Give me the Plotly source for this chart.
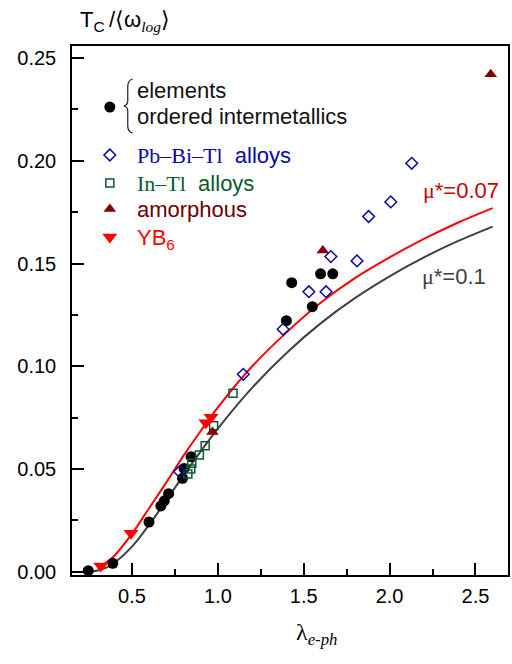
import plotly.graph_objects as go

# ---------------- data ----------------
elem_lam = [0.245, 0.388, 0.599, 0.668, 0.688, 0.713, 0.794, 0.803, 0.844,
            1.399, 1.430, 1.550, 1.598, 1.669]
elem_tc = [0.0005, 0.0041, 0.0242, 0.0320, 0.0345, 0.0380, 0.0455, 0.0503, 0.0560,
           0.1222, 0.1407, 0.1290, 0.1450, 0.1450]

pbbitl_lam = [0.777, 1.148, 1.380, 1.530, 1.630, 1.658, 1.810, 1.878, 2.007, 2.129]
pbbitl_tc = [0.0487, 0.0961, 0.1180, 0.1363, 0.1363, 0.1534, 0.1513, 0.1729, 0.1800, 0.1988]

intl_lam = [0.825, 0.842, 0.848, 0.892, 0.926, 0.975, 1.088]
intl_tc = [0.0476, 0.0500, 0.0528, 0.0568, 0.0613, 0.0711, 0.0869]

amor_lam = [0.968, 1.611, 2.589]
amor_tc = [0.0680, 0.1563, 0.2422]

yb6_lam = [0.318, 0.494, 0.930, 0.960]
yb6_tc = [0.0028, 0.0187, 0.0725, 0.0752]

mu007_lam = [0.30, 0.35, 0.40, 0.50, 0.60, 0.70, 0.80, 0.90, 1.00, 1.20, 1.40,
             1.60, 1.80, 2.00, 2.20, 2.40, 2.60]
mu007_tc = [0.0015, 0.0045, 0.0080, 0.0185, 0.0310, 0.0435, 0.0565, 0.0685, 0.0800,
            0.1000, 0.1165, 0.1310, 0.1430, 0.1530, 0.1620, 0.1700, 0.1770]

mu01_lam = [0.23, 0.30, 0.35, 0.40, 0.50, 0.60, 0.70, 0.80, 0.90, 1.00, 1.20, 1.40,
            1.60, 1.80, 2.00, 2.20, 2.40, 2.60]
mu01_tc = [0.0000, 0.0006, 0.0020, 0.0045, 0.0122, 0.0229, 0.0348, 0.0469, 0.0586,
           0.0697, 0.0896, 0.1065, 0.1210, 0.1333, 0.1438, 0.1530, 0.1610, 0.1680]

x_ticks = [0.5, 1.0, 1.5, 2.0, 2.5]
y_ticks = [0.00, 0.05, 0.10, 0.15, 0.20, 0.25]

# ---------------- layout geometry ----------------
W, H = 512, 664
L, R, T, B = 72, 510, 46, 575


def fx(x):
    return (x - L) / (R - L)


def fy(y):
    return (B - y) / (B - T)


SANS = "Liberation Sans, Arial, sans-serif"
SERIF = "Liberation Serif, Times New Roman, serif"

C_BLUE = "#0a0aa8"
C_GREEN = "#0b5a2e"
C_MAROON = "#800000"
C_RED = "#ff0000"
C_GREY = "#404040"

fig = go.Figure()

fig.add_trace(go.Scatter(x=mu01_lam, y=mu01_tc, mode="lines",
                         line=dict(color=C_GREY, width=2, shape="spline"), showlegend=False))
fig.add_trace(go.Scatter(x=mu007_lam, y=mu007_tc, mode="lines",
                         line=dict(color=C_RED, width=2, shape="spline"), showlegend=False))

fig.add_trace(go.Scatter(x=elem_lam, y=elem_tc, mode="markers",
                         marker=dict(symbol="circle", size=11, color="black"), showlegend=False))
fig.add_trace(go.Scatter(x=intl_lam, y=intl_tc, mode="markers",
                         marker=dict(symbol="square-open", size=8, color=C_GREEN,
                                     line=dict(width=1.5, color=C_GREEN)), showlegend=False))
fig.add_trace(go.Scatter(x=pbbitl_lam, y=pbbitl_tc, mode="markers",
                         marker=dict(symbol="diamond-open", size=9, color=C_BLUE,
                                     line=dict(width=1.5, color=C_BLUE)), showlegend=False))
fig.add_trace(go.Scatter(x=amor_lam, y=amor_tc, mode="markers",
                         marker=dict(symbol="triangle-up", size=11, color=C_MAROON), showlegend=False))
fig.add_trace(go.Scatter(x=yb6_lam, y=yb6_tc, mode="markers",
                         marker=dict(symbol="triangle-down", size=13, color=C_RED), showlegend=False))

# legend markers on an overlay axis in paper units
leg_x = fx(110)
leg_items = [
    (fy(107), dict(symbol="circle", size=11, color="black")),
    (fy(155), dict(symbol="diamond-open", size=9, color=C_BLUE, line=dict(width=1.5, color=C_BLUE))),
    (fy(183), dict(symbol="square-open", size=8, color=C_GREEN, line=dict(width=1.5, color=C_GREEN))),
    (fy(209), dict(symbol="triangle-up", size=11, color=C_MAROON)),
    (fy(237), dict(symbol="triangle-down", size=13, color=C_RED)),
]
for yy, mk in leg_items:
    fig.add_trace(go.Scatter(x=[leg_x], y=[yy], mode="markers", marker=mk,
                             xaxis="x2", yaxis="y2", showlegend=False, hoverinfo="skip"))

ann = []


def txt(x, y, s, size, color, xanchor="left", family=SANS):
    ann.append(dict(x=fx(x), y=fy(y), xref="paper", yref="paper", text=s, showarrow=False,
                    xanchor=xanchor, yanchor="middle", font=dict(size=size, color=color, family=family)))


tx = 135
txt(tx, 90, "elements", 22, "#111111")
txt(tx, 117, "ordered intermetallics", 22, "#111111")
txt(tx, 155, '<span style="font-family:Liberation Serif">Pb\u2013Bi\u2013Tl</span>\u00a0\u00a0alloys', 22, C_BLUE)
txt(tx, 183, '<span style="font-family:Liberation Serif">In\u2013Tl</span>\u00a0\u00a0alloys', 22, C_GREEN)
txt(tx, 210, "amorphous", 22, "#6b0000")
txt(tx, 239, "YB<sub>6</sub>", 22, C_RED)

txt(423, 190, '<span style="font-family:Liberation Serif">\u03bc</span>*=0.07', 22, "#c80000")
txt(422, 276, '<span style="font-family:Liberation Serif">\u03bc</span>*=0.1', 22, C_GREY)

# axis titles
txt(78, 21, 'T<sub>C</sub>\u2009/\u27e8\u03c9<sub><span style="font-family:Liberation Serif"><i>log</i></span></sub>\u27e9',
    22, "black")
txt(318, 634, '\u03bb<sub><i>e-ph</i></sub>', 24, "black", xanchor="center", family=SERIF)

fig.update_layout(annotations=ann)

# brace for the first legend entry
pts = [(133, 79), (128, 80), (128, 87), (128, 101), (128, 105), (124, 106),
       (128, 107), (128, 111), (128, 126), (128, 132), (133, 133)]
p = [(fx(a), fy(b)) for a, b in pts]
path = (f"M {p[0][0]},{p[0][1]} Q {p[1][0]},{p[1][1]} {p[2][0]},{p[2][1]} "
        f"L {p[3][0]},{p[3][1]} Q {p[4][0]},{p[4][1]} {p[5][0]},{p[5][1]} "
        f"Q {p[6][0]},{p[6][1]} {p[7][0]},{p[7][1]} L {p[8][0]},{p[8][1]} "
        f"Q {p[9][0]},{p[9][1]} {p[10][0]},{p[10][1]}")
fig.add_shape(type="path", path=path, xref="paper", yref="paper",
              line=dict(color="#222222", width=1.2))

axis_common = dict(showline=True, linecolor="black", linewidth=1.5, mirror=True,
                   ticks="inside", ticklen=12, tickwidth=1.5, tickcolor="black",
                   showgrid=False, zeroline=False,
                   tickfont=dict(family=SANS, size=20, color="black"))

fig.update_layout(
    width=W, height=H,
    margin=dict(l=L, r=W - R, t=T, b=H - B, pad=0),
    paper_bgcolor="white", plot_bgcolor="white",
    showlegend=False,
    xaxis=dict(range=[0.1504, 2.6896], tickvals=x_ticks, tickformat=".1f",
               minor=dict(dtick=0.25, tick0=0, ticks="inside", ticklen=6, tickwidth=1.5,
                          tickcolor="black"),
               ticklabelstandoff=2, **axis_common),
    yaxis=dict(range=[-0.0016, 0.2559], tickvals=y_ticks, tickformat=".2f",
               minor=dict(dtick=0.025, tick0=0, ticks="inside", ticklen=6, tickwidth=1.5,
                          tickcolor="black"),
               ticklabelstandoff=10, **axis_common),
    xaxis2=dict(range=[0, 1], overlaying="x", visible=False, fixedrange=True),
    yaxis2=dict(range=[0, 1], overlaying="y", visible=False, fixedrange=True),
)

fig.write_html("out.html", config={"displayModeBar": False},
               post_script="document.body.style.margin='0';document.body.style.overflow='hidden';")
